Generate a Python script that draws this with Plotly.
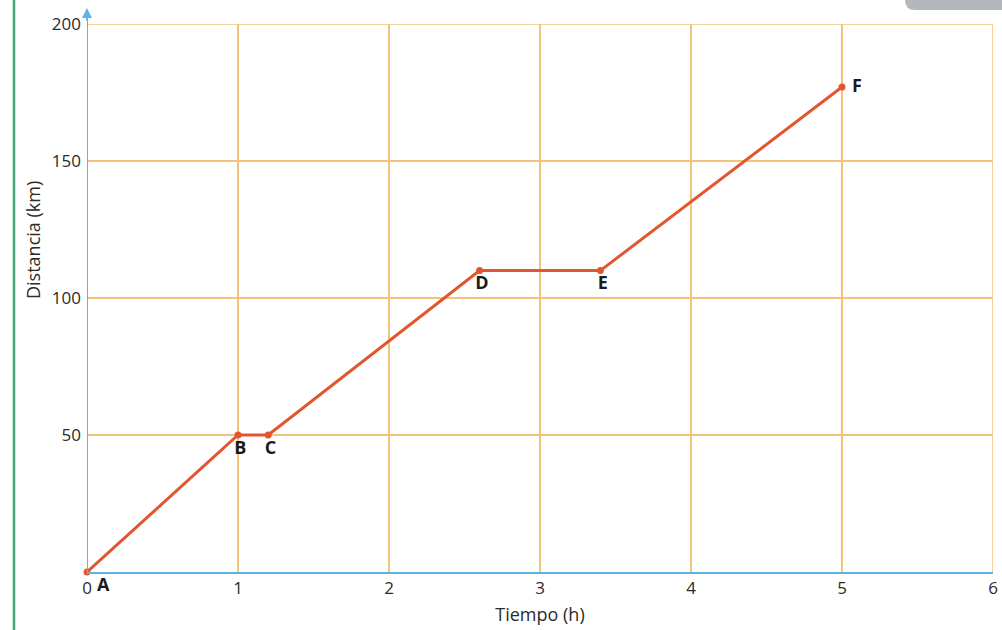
import plotly.graph_objects as go

# Distance-time data for the trip
puntos = ["A", "B", "C", "D", "E", "F"]
tiempo_h = [0, 1, 1.2, 2.6, 3.4, 5]
distancia_km = [0, 50, 50, 110, 110, 177]
posicion_texto = ["bottom right", "bottom center", "bottom center",
                  "bottom center", "bottom center", "middle right"]

x_ticks = [0, 1, 2, 3, 4, 5, 6]
y_ticks = [50, 100, 150, 200]

AXIS_BLUE = "#5fb3e6"
GRID_ORANGE = "#f5c27a"
LINE_RED = "#e2562f"
FONT = "Liberation Sans Narrow, Open Sans, sans-serif"

L, R, T, B = 87, 9, 24, 58
PW, PH = 1002 - L - R, 630 - T - B

fig = go.Figure()
fig.add_trace(go.Scatter(
    x=tiempo_h, y=distancia_km,
    mode="lines+markers+text",
    text=[" " + p for p in puntos], textposition=posicion_texto,
    textfont=dict(family="Open Sans, sans-serif", size=18, color="#1a1a1a", weight="bold"),
    line=dict(color=LINE_RED, width=3),
    marker=dict(color=LINE_RED, size=7),
    cliponaxis=False, showlegend=False,
))

fig.update_layout(
    width=1002, height=630,
    margin=dict(l=L, r=R, t=T, b=B, autoexpand=False),
    paper_bgcolor="white", plot_bgcolor="white",
    font=dict(family=FONT, size=17, color="#2b2b2b"),
    xaxis=dict(
        range=[0, 6], tickvals=x_ticks, ticktext=[str(v) for v in x_ticks],
        showgrid=True, gridcolor=GRID_ORANGE, gridwidth=1.5,
        zeroline=False, showline=True, linecolor=AXIS_BLUE, linewidth=2,
        ticks="", ticklabelstandoff=0, automargin=False,
        title=dict(text="Tiempo (h)", font=dict(size=18, family=FONT), standoff=10),
    ),
    yaxis=dict(
        range=[0, 200], tickvals=y_ticks, ticktext=[str(v) for v in y_ticks],
        showgrid=True, gridcolor=GRID_ORANGE, gridwidth=1.5,
        zeroline=False, showline=False, automargin=False,
        ticks="", ticklabelstandoff=5,
    ),
    shapes=[
        # grid lines along the top and right edges of the plot
        dict(type="line", xref="paper", yref="y", x0=0, x1=1, y0=200, y1=200,
             line=dict(color=GRID_ORANGE, width=1.5)),
        dict(type="line", xref="x", yref="paper", x0=6, x1=6, y0=0, y1=1,
             line=dict(color=GRID_ORANGE, width=1.5)),
        # vertical axis line extending past the top toward the arrowhead
        dict(type="line", xref="x", yref="paper", x0=0, x1=0, y0=0, y1=1.025,
             line=dict(color=AXIS_BLUE, width=2)),
        # green page rule on the left
        dict(type="line", xref="paper", yref="paper",
             x0=(14 - L) / PW, x1=(14 - L) / PW, y0=-B / PH, y1=1 + T / PH,
             line=dict(color="#3aaa78", width=2.5)),
        # grey tab at the top right
        dict(type="path", xref="paper", yref="paper", fillcolor="#b4b8bd",
             line=dict(width=0),
             path="M {0},{1} L {2},{1} L {2},{3} L {4},{3} Q {0},{3} {0},{1} Z".format(
                 (905 - L) / PW, 1 + T / PH, (1002 - L) / PW,
                 1 + 14 / PH, (915 - L) / PW)),
    ],
    annotations=[
        dict(x=0, y=1 + 16 / PH, xref="x", yref="paper", ax=0, ay=14,
             showarrow=True, arrowhead=2, arrowsize=1, arrowwidth=2,
             arrowcolor=AXIS_BLUE, text=""),
        dict(text="Distancia (km)", textangle=-90, xref="paper", yref="paper",
             x=(33 - L) / PW, y=(572 - 240) / PH, xanchor="center", yanchor="middle",
             showarrow=False, font=dict(size=18, family=FONT, color="#2b2b2b")),
    ],
)

fig.write_html("out.html")
